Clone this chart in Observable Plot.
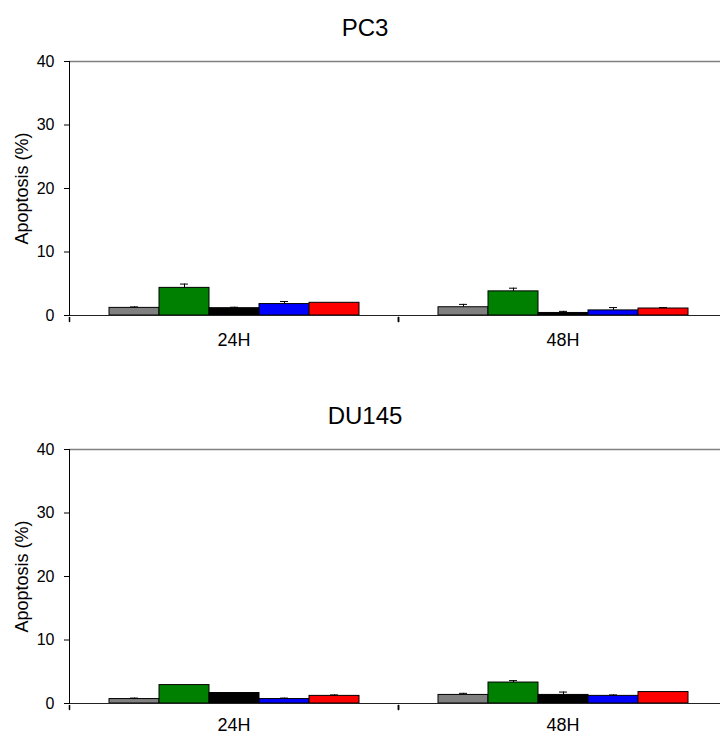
<!DOCTYPE html>
<html>
<head>
<meta charset="utf-8">
<script src="https://cdn.jsdelivr.net/npm/d3@7"></script>
<script src="https://cdn.jsdelivr.net/npm/@observablehq/plot@0.6"></script>
<style>
  body { margin: 0; background: #fff; font-family: "Liberation Sans", Arial, sans-serif; }
  #wrap { width: 720px; height: 736px; overflow: hidden; }
  .title { width: 720px; height: 50px; line-height: 50px; font-size: 24px; text-align: center; padding-left: 10px; box-sizing: border-box; color: #000; position: relative; top: 3px; }
  svg { display: block; max-width: none !important; }
</style>
</head>
<body>
<div id="wrap"></div>
<script>
// ---- data ----
const times = ["24H", "48H"];
const series = ["S1", "S2", "S3", "S4", "S5"];
const colors = ["#808080", "#008000", "#000000", "#0000ff", "#ff0000"];
const yTicks = [0, 10, 20, 30, 40];
const yLabel = "Apoptosis (%)";

const pc3_24h = [1.2, 4.35, 1.15, 1.8, 2.0];
const pc3_24h_err = [0.15, 0.6, 0.15, 0.4, 0];
const pc3_48h = [1.3, 3.8, 0.4, 0.8, 1.1];
const pc3_48h_err = [0.45, 0.5, 0.25, 0.45, 0.15];

const du145_24h = [0.7, 2.9, 1.65, 0.7, 1.2];
const du145_24h_err = [0.15, 0, 0, 0.15, 0.15];
const du145_48h = [1.35, 3.3, 1.35, 1.2, 1.8];
const du145_48h_err = [0.25, 0.3, 0.45, 0.15, 0];

function rows(v24, e24, v48, e48) {
  const out = [];
  [[v24, e24], [v48, e48]].forEach(([v, e], ti) => {
    series.forEach((s, si) => out.push({time: times[ti], series: s, value: v[si], err: e[si], hi: v[si] + e[si]}));
  });
  return out;
}

const lineShape = {draw(context, l) { context.moveTo(0, 0); context.lineTo(0, -l); }};

function panel(title, data, height, marginBottom, fxPad) {
  const errs = data.filter(d => d.err > 0);
  const plot = Plot.plot({
    width: 727, height, marginTop: 11, marginBottom, marginLeft: 69, marginRight: 0,
    facet: {marginTop: 0, marginRight: 0, marginBottom: 0, marginLeft: 0},
    style: {fontFamily: '"Liberation Sans", Arial, sans-serif', fontSize: "16px", color: "#000", background: "#fff", overflow: "visible", maxWidth: "none"},
    fx: {domain: times, padding: 0},
    x: {domain: series, paddingInner: 0, paddingOuter: 0.75, axis: null},
    y: {domain: [0, 40]},
    color: {domain: series, range: colors},
    marks: [
      Plot.ruleY([40], {stroke: "#808080", strokeWidth: 1.5}),
      Plot.barY(data, {fx: "time", x: "series", y: "value", fill: "series", stroke: "#000", strokeWidth: 1}),
      Plot.ruleX(errs, {fx: "time", x: "series", y1: "value", y2: "hi", stroke: "#000"}),
      Plot.tickY(errs, {fx: "time", x: "series", y: "hi", insetLeft: 21, insetRight: 21, stroke: "#000"}),
      Plot.ruleY([0], {stroke: "#222", strokeWidth: 1.2}),
      Plot.frame({anchor: "left", facet: "super", stroke: "#000"}),
      Plot.vector([0], {frameAnchor: "bottom-left", anchor: "start", rotate: 180, length: 4, dy: 2, shape: lineShape, stroke: "#000"}),
      Plot.vector([0], {frameAnchor: "bottom-right", anchor: "start", rotate: 180, length: 4, dy: 2, shape: lineShape, stroke: "#000"}),
      Plot.axisY({ticks: yTicks, tickSize: 5, tickPadding: 10, label: null, fontSize: 16}),
      Plot.text([{time: times[0]}], {fx: "time", text: () => yLabel, frameAnchor: "left", textAnchor: "middle", rotate: -90, dx: -47, fontSize: 18, fill: "#000"}),
      Plot.axisFx({anchor: "bottom", tickSize: 0, tickPadding: fxPad, fontSize: 18, label: null})
    ]
  });
  const t = document.createElement("div");
  t.className = "title";
  t.textContent = title;
  const wrap = document.getElementById("wrap");
  wrap.appendChild(t);
  wrap.appendChild(plot);
}

panel("PC3", rows(pc3_24h, pc3_24h_err, pc3_48h, pc3_48h_err), 338, 73, 18);
panel("DU145", rows(du145_24h, du145_24h_err, du145_48h, du145_48h_err), 298, 33, 15);
</script>
</body>
</html>
